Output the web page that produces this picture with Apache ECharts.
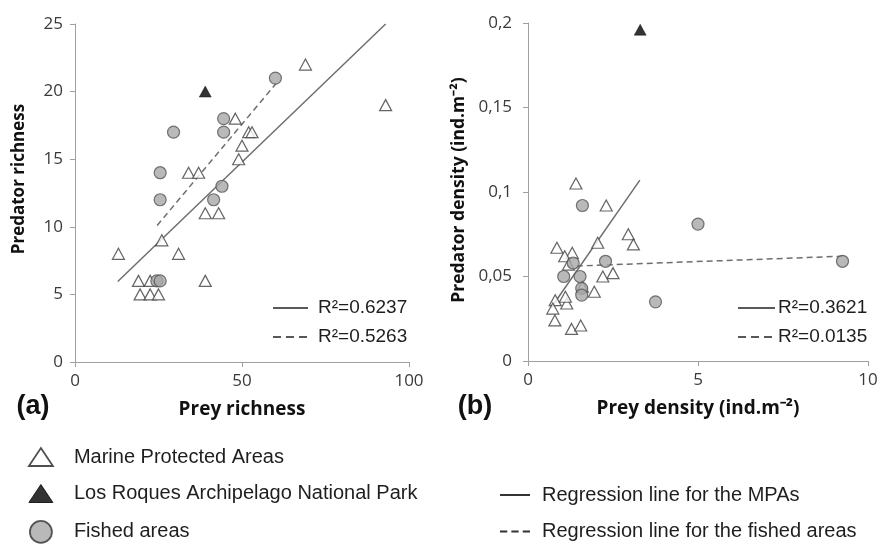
<!DOCTYPE html>
<html><head><meta charset="utf-8">
<script src="https://cdn.jsdelivr.net/npm/echarts@6/dist/echarts.min.js"></script>
<style>html,body{margin:0;padding:0;background:#fff}#c{width:880px;height:552px}</style>
</head><body><div id="c"></div>
<script>
// ---- Panel (a): richness ----
const mpaRichness = [[69,22],[93,19],[48,18],[52,17],[53,17],[50,16],[49,15],[34,14],[37,14],[39,11],[43,11],[26,9],[13,8],[31,8],[19,6],[22.5,6],[39,6],[19.5,5],[22.5,5],[25,5]];
const losRoquesRichness = [[39,20]];
const fishedRichness = [[60,21],[44.5,18],[29.5,17],[44.5,17],[25.5,14],[44,13],[41.5,12],[25.5,12],[24.5,6],[25.5,6]];
const regMpaRichness = [[12.8,5.95],[93,25]];
const regFishedRichness = [[24.6,10.1],[60.2,20.6]];
// ---- Panel (b): density ----
const mpaDensity = [[1.41,0.105],[2.3,0.092],[2.95,0.075],[3.1,0.069],[2.05,0.070],[0.85,0.067],[1.3,0.064],[1.08,0.062],[1.19,0.057],[2.5,0.052],[2.2,0.050],[1.6,0.044],[1.95,0.041],[0.8,0.036],[1.14,0.034],[1.1,0.038],[0.73,0.031],[0.79,0.024],[1.28,0.019],[1.55,0.021]];
const losRoquesDensity = [[3.3,0.196]];
const fishedDensity = [[1.6,0.092],[5.0,0.081],[2.28,0.059],[9.25,0.059],[1.33,0.058],[1.05,0.050],[1.53,0.050],[1.58,0.043],[1.58,0.039],[3.75,0.035]];
const regMpaDensity = [[0.68,0.0315],[3.29,0.107]];
const regFishedDensity = [[1.14,0.056],[9.25,0.062]];
// ---- labels ----
const r2Richness = ['R²=0.6237','R²=0.5263'];
const r2Density = ['R²=0.3621','R²=0.0135'];
const legendPoints = ['Marine Protected Areas','Los Roques Archipelago National Park','Fished areas'];
const legendLines = ['Regression line for the MPAs','Regression line for the fished areas'];

const chart = echarts.init(document.getElementById('c'));
const tickFont = {fontFamily:'Open Sans', fontSize:17, color:'#3a3a3a'};
const axisLineC = '#a0a0a0';
function axisCommon(){
  return {
    axisLine:{show:true, onZero:false, lineStyle:{color:axisLineC, width:1}},
    axisTick:{show:true, inside:false, length:5, lineStyle:{color:axisLineC}},
    splitLine:{show:false}
  };
}
const titleStyle = {fontFamily:'Open Sans', fontWeight:'bold', fontSize:19, color:'#111'};
const mpaStyle = {color:'#ffffff', borderColor:'#3f3f3f', borderWidth:1.2};
const lrStyle = {color:'#000000', borderColor:'#000', borderWidth:0.5};
const fishStyle = {color:'#a8a8a8', borderColor:'#555555', borderWidth:1.2};
const solidLine = {color:'#6e6e6e', width:1.5, type:'solid'};
const dashLine = {color:'#6e6e6e', width:1.5, type:[6,4]};

function scat(name, data, xi, sym, size, st, z){
  return {name, type:'scatter', xAxisIndex:xi, yAxisIndex:xi, data, symbol:sym, symbolSize:size, itemStyle:st, z, silent:true};
}
function reg(name, data, xi, ls){
  return {name, type:'line', xAxisIndex:xi, yAxisIndex:xi, data, symbol:'none', lineStyle:ls, itemStyle:{color:ls.color}, z:1, silent:true};
}

const lgText = {fontFamily:'Liberation Sans', fontSize:20, color:'#1e1e1e'};
function r2Block(x0, x1, tx, y, label, ls){
  return [
    {type:'line', shape:{x1:x0, y1:y, x2:x1, y2:y}, style:{stroke:'#222', lineWidth:1.5, lineDash: ls==='dash'?[8,5]:null}},
    {type:'text', x:tx, y:y, style:{text:label, font:'19px "Liberation Sans"', fill:'#1e1e1e', textAlign:'left', textVerticalAlign:'middle', align:'left', verticalAlign:'middle'}}
  ];
}
const triIcon = 'path://M12,0L24,18L0,18Z';
const solidIcon = 'path://M0,0H30V2H0Z';
const dashIcon = 'path://M0,0H7V2H0Z M11,0H18V2H11Z M22,0H29V2H22Z';

const option = {
  animation:false,
  backgroundColor:'#fff',
  grid:[
    {left:75, top:24, width:334, height:338, containLabel:false, outerBoundsMode:'none'},
    {left:528, top:23, width:340, height:338, containLabel:false, outerBoundsMode:'none'}
  ],
  xAxis:[
    Object.assign(axisCommon(), {gridIndex:0, type:'value', min:0, max:100, interval:50,
      axisLabel:Object.assign({margin:11}, tickFont),
      name:'Prey richness', nameLocation:'middle', nameGap:38, nameTextStyle:titleStyle}),
    Object.assign(axisCommon(), {gridIndex:1, type:'value', min:0, max:10, interval:5,
      axisLabel:Object.assign({margin:11}, tickFont),
      name:'Prey density (ind.m⁻²)', nameLocation:'middle', nameGap:38, nameTextStyle:titleStyle})
  ],
  yAxis:[
    Object.assign(axisCommon(), {gridIndex:0, type:'value', min:0, max:25, interval:5,
      axisLabel:Object.assign({margin:12}, tickFont)}),
    Object.assign(axisCommon(), {gridIndex:1, type:'value', min:0, max:0.2, interval:0.05,
      axisLabel:Object.assign({margin:16, formatter:v=>String(+v.toFixed(2)).replace('.', ',')}, tickFont)})
  ],
  legend:[
    {data:[
        {name:legendPoints[0], icon:triIcon, itemStyle:{color:'#fff', borderColor:'#222', borderWidth:1.8}},
        {name:legendPoints[1], icon:triIcon, itemStyle:{color:'#000', borderColor:'#000', borderWidth:1}},
        {name:legendPoints[2], icon:'circle', itemStyle:{color:'#a8a8a8', borderColor:'#333', borderWidth:1.8}}
      ],
      orient:'vertical', left:28, top:447, padding:0, itemWidth:24, itemHeight:22, itemGap:16.5,
      selectedMode:false, textStyle:Object.assign({padding:[0,0,0,16]}, lgText)},
    {data:[
        {name:legendLines[0], icon:solidIcon, itemStyle:{color:'#333', borderWidth:0}},
        {name:legendLines[1], icon:dashIcon, itemStyle:{color:'#333', borderWidth:0}}
      ],
      orient:'vertical', left:500, top:485, padding:0, itemWidth:30, itemHeight:22, itemGap:16.5,
      selectedMode:false, textStyle:Object.assign({padding:[0,0,0,7]}, lgText)}
  ],
  series:[
    reg(legendLines[0], regMpaRichness, 0, solidLine),
    reg(legendLines[1], regFishedRichness, 0, dashLine),
    reg(legendLines[0], regMpaDensity, 1, solidLine),
    reg(legendLines[1], regFishedDensity, 1, dashLine),
    scat(legendPoints[0], mpaRichness, 0, 'triangle', [12,11], mpaStyle, 3),
    scat(legendPoints[0], mpaDensity, 1, 'triangle', [12,11], mpaStyle, 3),
    scat(legendPoints[1], losRoquesRichness, 0, 'triangle', [12,11], lrStyle, 4),
    scat(legendPoints[1], losRoquesDensity, 1, 'triangle', [12,11], lrStyle, 4),
    scat(legendPoints[2], fishedRichness, 0, 'circle', 12, fishStyle, 5),
    scat(legendPoints[2], fishedDensity, 1, 'circle', 12, fishStyle, 5)
  ],
  graphic:[
    {type:'text', x:19, y:179, rotation:Math.PI/2, style:{text:'Predator richness', font:'bold 17px "Open Sans"', fill:'#111', textAlign:'center', textVerticalAlign:'middle', align:'center', verticalAlign:'middle'}},
    {type:'text', x:459, y:190, rotation:Math.PI/2, style:{text:'Predator density (ind.m⁻²)', font:'bold 17.5px "Open Sans"', fill:'#111', textAlign:'center', textVerticalAlign:'middle', align:'center', verticalAlign:'middle'}},
    {type:'text', x:33, y:407, style:{text:'(a)', font:'bold 27px "Liberation Sans"', fill:'#111', textAlign:'center', textVerticalAlign:'middle', align:'center', verticalAlign:'middle'}},
    {type:'text', x:475, y:407, style:{text:'(b)', font:'bold 27px "Liberation Sans"', fill:'#111', textAlign:'center', textVerticalAlign:'middle', align:'center', verticalAlign:'middle'}},
    ...r2Block(273, 308, 318, 308, r2Richness[0], 'solid'),
    ...r2Block(273, 308, 318, 337, r2Richness[1], 'dash'),
    ...r2Block(738, 775, 778, 308, r2Density[0], 'solid'),
    ...r2Block(738, 775, 778, 337, r2Density[1], 'dash')
  ]
};
chart.setOption(option);
</script>
</body></html>
